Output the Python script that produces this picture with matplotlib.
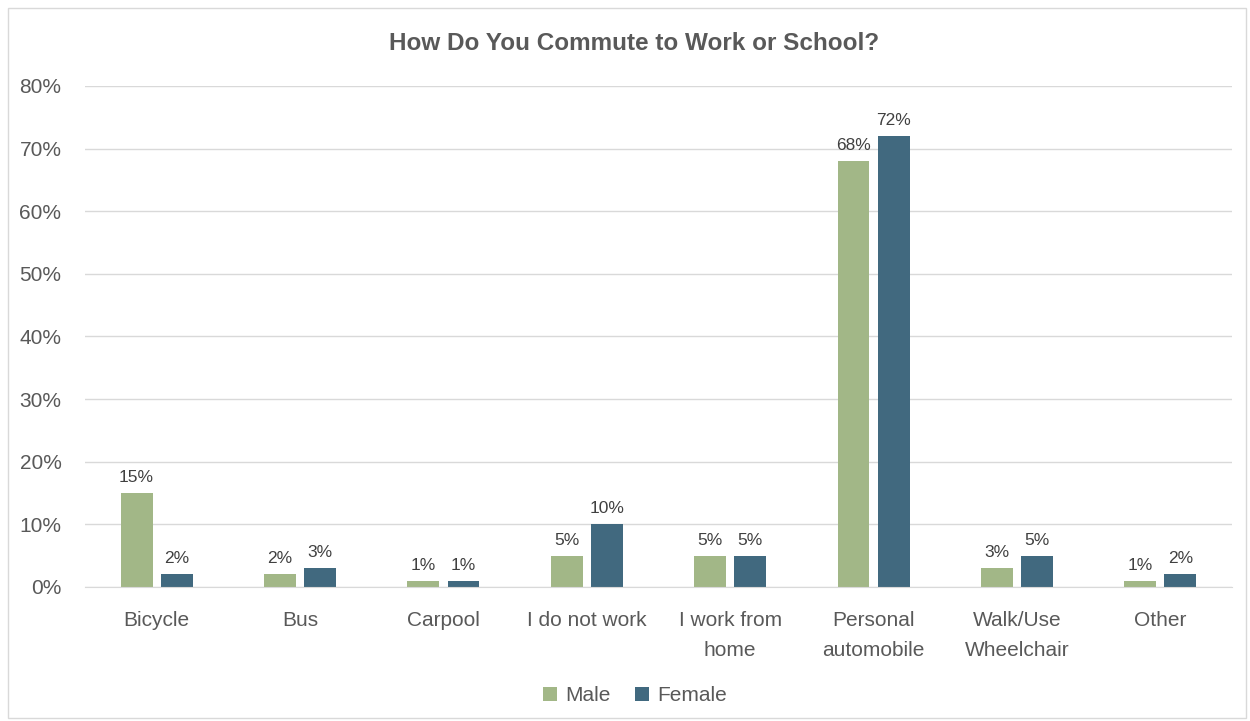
import matplotlib
matplotlib.use('Agg')
import matplotlib.pyplot as plt
from matplotlib.patches import Rectangle
import numpy as np

plt.rcParams['font.family'] = ['Liberation Sans', 'DejaVu Sans']

categories = ["Bicycle", "Bus", "Carpool", "I do not work", "I work from\nhome",
              "Personal\nautomobile", "Walk/Use\nWheelchair", "Other"]
male = [15, 2, 1, 5, 5, 68, 3, 1]
female = [2, 3, 1, 10, 5, 72, 5, 2]
yticks = [0, 10, 20, 30, 40, 50, 60, 70, 80]

male_color = '#A2B787'
female_color = '#41697F'
text_color = '#595959'

fig = plt.figure(figsize=(12.5, 7.21), dpi=100)
fig.patches.append(Rectangle((0.0064, 0.004), 0.99, 0.985, transform=fig.transFigure,
                             fill=False, edgecolor='#D9D9D9', linewidth=1))
ax = fig.add_axes([0.068, 0.1859, 0.9176, 0.6949])

x = np.arange(len(categories))
w = 0.223
off = 0.14
b1 = ax.bar(x - off, male, w, color=male_color, label='Male')
b2 = ax.bar(x + off, female, w, color=female_color, label='Female')

# value labels above each bar
for bars, vals in ((b1, male), (b2, female)):
    for rect, v in zip(bars, vals):
        ax.text(rect.get_x() + rect.get_width() / 2, v + 1.3, f"{v}%",
                ha='center', va='bottom', fontsize=12.5, color='#404040')

ax.set_xlim(-0.5, len(categories) - 0.5)
ax.set_ylim(0, 80)
ax.set_yticks(yticks)
ax.set_yticklabels([f"{t}%" for t in yticks], fontsize=15, color=text_color)
ax.set_xticks(x)
ax.set_xticklabels(categories, fontsize=15, color=text_color, linespacing=1.75)
ax.tick_params(axis='both', length=0)
ax.tick_params(axis='x', pad=17)
ax.tick_params(axis='y', pad=17)
ax.grid(axis='y', color='#D9D9D9', linewidth=1)
ax.set_axisbelow(True)
for s in ('top', 'right', 'left'):
    ax.spines[s].set_visible(False)
ax.spines['bottom'].set_color('#D9D9D9')

fig.text(0.507, 0.940, "How Do You Commute to Work or School?", ha='center', va='center',
         fontsize=17.5, fontweight='bold', color=text_color)

fig.legend(handles=[b1, b2], loc='center', bbox_to_anchor=(0.508, 0.035), ncol=2,
           frameon=False, fontsize=15, handlelength=0.65, handleheight=0.65,
           columnspacing=1.2, handletextpad=0.4, labelcolor=text_color)

fig.savefig('out.png', dpi=100)
